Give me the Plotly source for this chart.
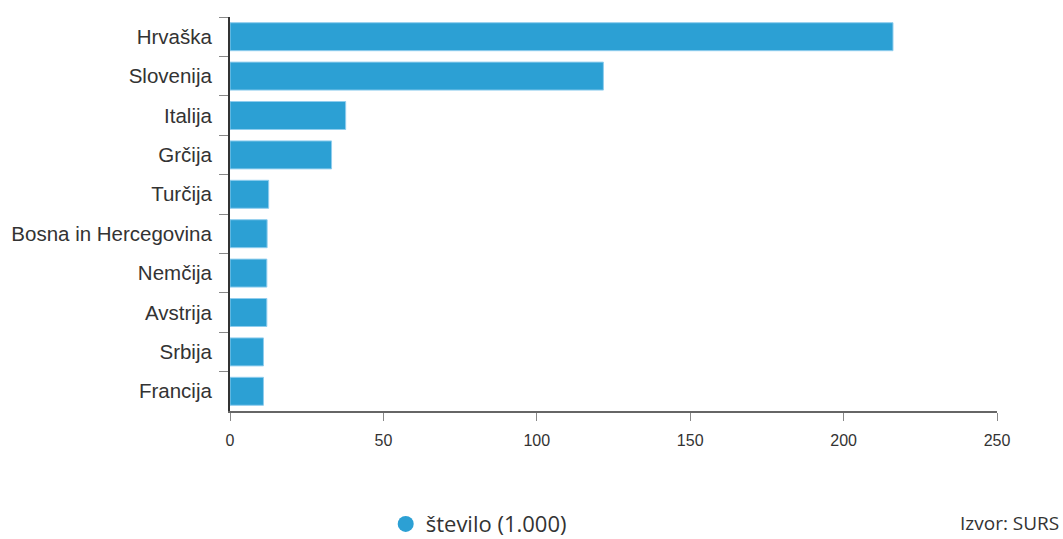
import plotly.graph_objects as go

countries = ["Hrvaška", "Slovenija", "Italija", "Grčija", "Turčija",
             "Bosna in Hercegovina", "Nemčija", "Avstrija", "Srbija", "Francija"]
values = [216.1, 121.7, 37.7, 33.1, 12.6, 12.1, 12.0, 12.0, 10.9, 10.9]
x_ticks = [0, 50, 100, 150, 200, 250]
series_name = "število (1.000)"
source_text = "Izvor: SURS"

BAR_COLOR = "#2ca0d4"

fig = go.Figure()
fig.add_trace(go.Bar(
    x=values, y=countries, orientation="h",
    marker=dict(color=BAR_COLOR, line=dict(color="#8fcdee", width=1)),
    showlegend=False, hoverinfo="x+y",
))
# legend entry with a round symbol
fig.add_trace(go.Scatter(
    x=[None], y=[None], mode="markers", name=series_name,
    marker=dict(symbol="circle", size=20, color=BAR_COLOR),
))

fig.update_layout(
    width=1063, height=539,
    margin=dict(l=230, r=66, t=17, b=128, autoexpand=False),
    paper_bgcolor="white", plot_bgcolor="white",
    bargap=0.29,
    font=dict(family="Liberation Sans, Arial, sans-serif", color="#333333"),
    showlegend=True,
    legend=dict(
        orientation="h", x=0.203, xanchor="left", y=-0.287, yanchor="middle",
        font=dict(family="Open Sans, sans-serif", size=22, color="#333333"),
        itemsizing="trace",
    ),
    annotations=[dict(
        text=source_text, xref="paper", yref="paper",
        x=1.083, y=-0.3223, xanchor="right", yanchor="bottom", showarrow=False,
        font=dict(family="Open Sans, sans-serif", size=19, color="#333333"),
    )],
)

fig.update_xaxes(
    range=[0, 250], tickvals=x_ticks, ticks="outside", ticklen=8,
    tickcolor="#888888", tickwidth=1,
    showline=True, linecolor="#666666", linewidth=2,
    showgrid=False, zeroline=False, automargin=False,
    tickfont=dict(size=16, color="#333333"),
    ticklabelstandoff=6,
)
fig.update_yaxes(
    categoryorder="array", categoryarray=countries, autorange="reversed",
    ticks="outside", tickson="boundaries", ticklen=9,
    tickcolor="#888888", tickwidth=1,
    showline=True, linecolor="#333333", linewidth=2,
    showgrid=False, zeroline=False, automargin=False,
    tickfont=dict(size=20.5, color="#333333"),
    ticklabelstandoff=12,
)

fig.write_html("out.html", config={"displayModeBar": False},
               post_script="document.body.style.margin='0';")
